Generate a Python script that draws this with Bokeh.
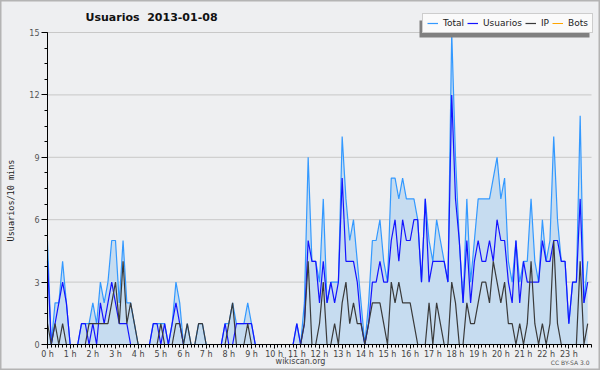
import math
from bokeh.plotting import figure
from bokeh.models import (ColumnDataSource, FixedTicker, Legend, LegendItem,
                          Label, Range1d, BoxAnnotation)
from bokeh.embed import file_html
from bokeh.resources import INLINE

# 10-minute slots across the day (144 values each)
total = [5, 0, 2, 2, 4, 2, 0, 0, 0, 1, 1, 1, 2, 1, 3, 2, 3, 5, 5, 2, 5, 2, 2, 1,
         0, 0, 0, 0, 1, 1, 1, 1, 0, 1, 3, 2, 0, 1, 0, 0, 1, 1, 0, 0, 0, 0, 0, 1,
         1, 2, 1, 1, 1, 2, 1, 0, 0, 0, 0, 0, 0, 0, 0, 0, 0, 0, 1, 0, 2, 9, 4, 4,
         3, 7, 2, 3, 3, 3, 10, 7, 5, 6, 4, 2, 0, 2, 5, 5, 6, 4, 3, 8, 8, 7, 8, 7,
         7, 7, 6, 3, 7, 5, 4, 6, 5, 4, 3, 15, 9, 5, 2, 7, 3, 5, 7, 7, 7, 7, 8, 9,
         7, 8, 4, 3, 5, 3, 4, 4, 7, 4, 3, 6, 4, 5, 10, 6, 4, 4, 1, 3, 3, 11, 2, 4]
usuarios = [4, 0, 1, 2, 3, 2, 0, 0, 0, 1, 1, 0, 1, 0, 2, 1, 2, 3, 2, 1, 1, 1, 0, 0,
            0, 0, 0, 0, 1, 1, 0, 1, 0, 1, 2, 1, 0, 0, 0, 0, 0, 0, 0, 0, 0, 0, 0, 1,
            0, 0, 1, 1, 1, 1, 1, 0, 0, 0, 0, 0, 0, 0, 0, 0, 0, 0, 1, 0, 1, 5, 4, 4,
            2, 4, 2, 3, 2, 3, 8, 4, 4, 4, 3, 1, 0, 1, 3, 3, 4, 3, 3, 5, 6, 4, 6, 5,
            5, 6, 6, 3, 7, 3, 4, 4, 4, 4, 3, 12, 7, 5, 2, 5, 2, 4, 5, 4, 4, 5, 4, 6,
            5, 5, 3, 2, 5, 2, 4, 3, 3, 3, 3, 5, 4, 4, 5, 5, 4, 4, 1, 3, 3, 7, 2, 3]
ip = [1, 0, 1, 0, 1, 0, 0, 0, 0, 0, 0, 1, 1, 1, 1, 1, 1, 2, 3, 1, 4, 1, 2, 1,
      0, 0, 0, 0, 0, 0, 1, 0, 0, 0, 1, 1, 0, 1, 0, 0, 1, 1, 0, 0, 0, 0, 0, 0,
      1, 2, 0, 0, 0, 1, 0, 0, 0, 0, 0, 0, 0, 0, 0, 0, 0, 0, 0, 0, 1, 4, 0, 0,
      1, 3, 0, 0, 1, 0, 2, 3, 1, 2, 1, 1, 0, 1, 2, 2, 2, 1, 0, 3, 2, 3, 2, 2,
      2, 1, 0, 0, 0, 2, 0, 2, 1, 0, 0, 3, 2, 0, 0, 2, 1, 1, 2, 3, 3, 2, 4, 3,
      2, 3, 1, 1, 0, 1, 0, 1, 4, 1, 0, 1, 0, 1, 5, 1, 0, 0, 0, 0, 0, 4, 0, 1]
bots = [0, 0, 0, 0, 0, 0, 0, 0, 0, 0, 0, 0, 0, 0, 0, 0, 0, 0, 0, 0, 0, 0, 0, 0,
        0, 0, 0, 0, 0, 0, 0, 0, 0, 0, 0, 0, 0, 0, 0, 0, 0, 0, 0, 0, 0, 0, 0, 0,
        0, 0, 0, 0, 0, 0, 0, 0, 0, 0, 0, 0, 0, 0, 0, 0, 0, 0, 0, 0, 0, 0, 0, 0,
        0, 0, 0, 0, 0, 0, 0, 0, 0, 0, 0, 0, 0, 0, 0, 0, 0, 0, 0, 0, 0, 0, 0, 0,
        0, 0, 0, 0, 0, 0, 0, 0, 0, 0, 0, 0, 0, 0, 0, 0, 0, 0, 0, 0, 0, 0, 0, 0,
        0, 0, 0, 0, 0, 0, 0, 0, 0, 0, 0, 0, 0, 0, 0, 0, 0, 0, 0, 0, 0, 0, 0, 0]
hours = list(range(24))
hour_labels = ["%d h" % h for h in hours]
y_ticks = [0, 3, 6, 9, 12, 15]
series_names = ["Total", "Usuarios", "IP", "Bots"]
title_text = "Usuarios \u00a02013-01-08"
y_label = "Usuarios/10 mins"
source_text = "wikiscan.org"
licence_text = "CC BY-SA 3.0"

# ---- layout (pixels) ----
BG = "#eeeff1"
W, H = 600, 370
PX0, PX24 = 47, 591      # x pixel of 0 h and 24 h
PY0, PY15 = 344, 32      # y pixel (from top) of 0 and 15
xs = (PX24 - PX0) / 24.0
ys = (PY0 - PY15) / 15.0
x_range = Range1d(-PX0 / xs, (W - PX0) / xs)
y_range = Range1d(-(H - PY0) / ys, PY0 / ys)


def dx(px):
    return (px - PX0) / xs


def dy(py):
    return (PY0 - py) / ys


slot_hours = [i / 6 for i in range(len(total))]
src = ColumnDataSource(dict(x=slot_hours, total=total, usuarios=usuarios,
                            ip=ip, bots=bots))

p = figure(width=W, height=H, output_backend="svg", toolbar_location=None,
           x_range=x_range, y_range=y_range, min_border=0,
           background_fill_color=BG, border_fill_color=BG)
p.outline_line_color = "#b4b4b4"
p.outline_line_width = 2
p.xgrid.visible = False
p.ygrid.visible = False

# horizontal grid lines at the y ticks, across the day
p.segment(x0=[0] * len(y_ticks), x1=[24] * len(y_ticks), y0=y_ticks, y1=y_ticks,
          line_color="#c8c8c8", line_width=1)

p.varea(x="x", y1=0, y2="total", source=src, fill_color="#c6dcf0")
r_total = p.line("x", "total", source=src, line_color="#3399ff", line_width=1.2)
r_usu = p.line("x", "usuarios", source=src, line_color="#1414ff", line_width=1.2)
r_ip = p.line("x", "ip", source=src, line_color="#3a3a3a", line_width=1.2)
r_bots = p.line("x", "bots", source=src, line_color="#ffa500", line_width=1)

# axes fixed at the data origin
xa = p.xaxis[0]
xa.fixed_location = 0
xa.bounds = (0, 24)
xa.ticker = FixedTicker(ticks=hours, minor_ticks=slot_hours + [24])
xa.major_label_overrides = {h: lab for h, lab in zip(hours, hour_labels)}
xa.major_tick_out = 4
xa.major_tick_in = 0
xa.minor_tick_out = 3
xa.minor_tick_in = 0
xa.major_label_standoff = 1
xa.major_label_text_font = "DejaVu Sans"
xa.major_label_text_font_size = "8px"
xa.major_label_text_color = "#444444"
xa.axis_line_color = "black"

ya = p.yaxis[0]
ya.fixed_location = 0
ya.bounds = (0, 15)
ya.ticker = FixedTicker(ticks=y_ticks, minor_ticks=[k * 0.75 for k in range(21)])
ya.major_tick_out = 6
ya.major_tick_in = 0
ya.minor_tick_out = 3
ya.minor_tick_in = 0
ya.major_label_standoff = 2
ya.major_label_text_font = "DejaVu Sans"
ya.major_label_text_font_size = "8px"
ya.major_label_text_color = "#555555"
ya.axis_line_color = "black"

# legend drop shadow (box offset left/down from the legend box)
LG_L, LG_R, LG_T, LG_B = 422, 592, 16, 33
p.add_layout(BoxAnnotation(left=dx(LG_L - 3), right=dx(LG_R - 3),
                           top=dy(LG_T + 4), bottom=dy(LG_B + 4),
                           fill_color="#808080", fill_alpha=1, line_color=None))

items = [LegendItem(label=n, renderers=[r])
         for n, r in zip(series_names, [r_total, r_usu, r_ip, r_bots])]
legend = Legend(items=items, location=(LG_L, H - LG_B), orientation="horizontal",
                glyph_width=11, glyph_height=8, label_height=8, label_width=0,
                label_standoff=5, spacing=3, padding=4, margin=0,
                label_text_font="DejaVu Sans", label_text_font_size="9px",
                label_text_color="#222222", background_fill_color="#fafafa",
                background_fill_alpha=1, border_line_color="#a0a0a0")
p.add_layout(legend, "center")

p.add_layout(Label(x=85, y=H - 16.5, x_units="screen", y_units="screen",
                   text=title_text, text_align="left", text_baseline="middle",
                   text_font="DejaVu Sans", text_font_size="11px",
                   text_font_style="bold", text_color="#111111"))
p.add_layout(Label(x=10, y=H - 200, x_units="screen", y_units="screen",
                   text=y_label, angle=math.pi / 2, text_align="center",
                   text_baseline="middle", text_font="DejaVu Sans Mono",
                   text_font_size="8.5px", text_color="#222222"))
p.add_layout(Label(x=300, y=9, x_units="screen", y_units="screen",
                   text=source_text, text_align="center", text_baseline="middle",
                   text_font="DejaVu Sans", text_font_size="8px", text_color="#444444"))
p.add_layout(Label(x=589, y=8, x_units="screen", y_units="screen",
                   text=licence_text, text_align="right", text_baseline="middle",
                   text_font="DejaVu Sans", text_font_size="6px", text_color="#555555"))

open("out.html", "w").write(file_html(p, INLINE))
